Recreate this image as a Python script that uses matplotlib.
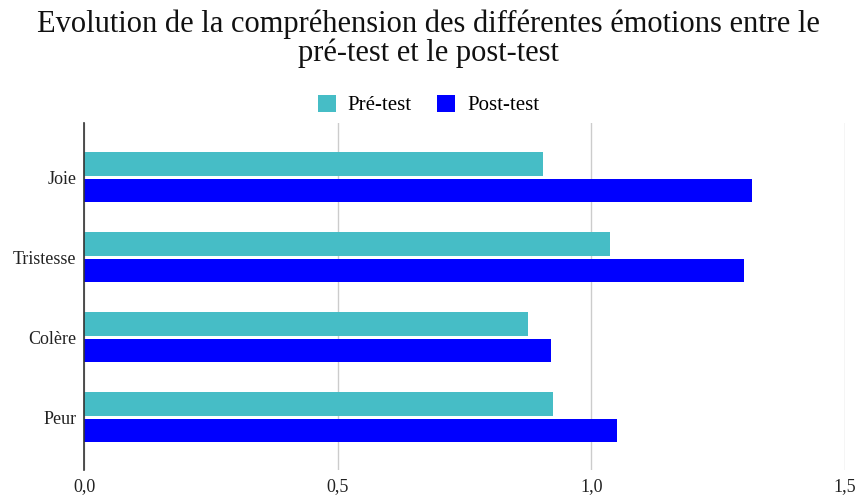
import matplotlib
matplotlib.use("Agg")
import matplotlib.pyplot as plt
import numpy as np

categories = ["Joie", "Tristesse", "Colère", "Peur"]
pre_test = [0.905, 1.036, 0.875, 0.925]
post_test = [1.316, 1.301, 0.920, 1.051]
xticks = [0.0, 0.5, 1.0, 1.5]
xtick_labels = ["0,0", "0,5", "1,0", "1,5"]

plt.rcParams["font.family"] = "Liberation Serif"

fig = plt.figure(figsize=(8.57, 4.97), dpi=100)
ax = fig.add_axes([84 / 857, 1 - 470 / 497, (845 - 84) / 857, (470 - 123) / 497])

y = np.arange(len(categories))
h = 0.295
ax.barh(y - 0.166, pre_test, height=h, color="#46bdc6", label="Pré-test", zorder=3)
ax.barh(y + 0.166, post_test, height=h, color="#0000ff", label="Post-test", zorder=3)

ax.set_ylim(3.66, -0.675)
ax.set_xlim(0, 1.5)
ax.set_yticks(y)
ax.set_yticklabels(categories, fontsize=13, color="#222222")
ax.set_xticks(xticks)
ax.set_xticklabels(xtick_labels, fontsize=13, color="#222222")
ax.tick_params(length=0)
ax.tick_params(axis="x", pad=6)
ax.tick_params(axis="y", pad=5.5)

ax.grid(axis="x", color="#cccccc", linewidth=1, zorder=0)
for s in ["top", "right", "bottom"]:
    ax.spines[s].set_visible(False)
ax.spines["left"].set_color("#333333")
ax.spines["left"].set_linewidth(1.2)
ax.spines["left"].set_zorder(4)

fig.suptitle("Evolution de la compréhension des différentes émotions entre le\npré-test et le post-test",
             fontsize=22, y=0.98, linespacing=0.95, color="#111111")

fig.legend(*ax.get_legend_handles_labels(), loc="center", bbox_to_anchor=(0.5, 1 - 105 / 497), ncol=2,
           frameon=False, fontsize=15, handlelength=0.87, handleheight=0.87, columnspacing=1.2,
           handletextpad=0.58)

fig.savefig("out.png", dpi=100)
